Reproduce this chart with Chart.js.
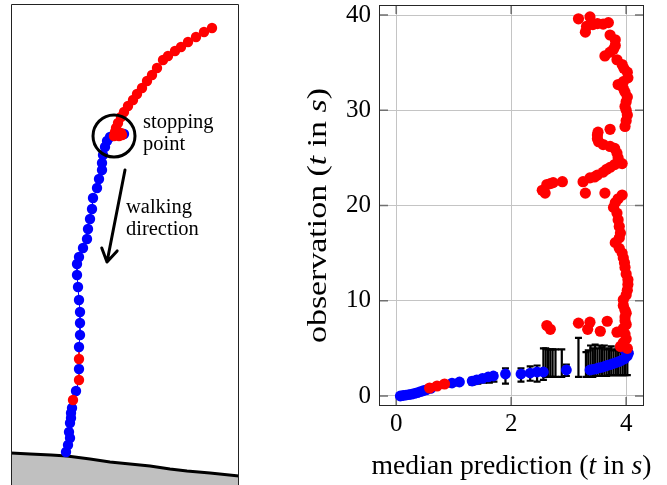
<!DOCTYPE html>
<html>
<head>
<meta charset="utf-8">
<script src="https://cdn.jsdelivr.net/npm/chart.js@4.4.1/dist/chart.umd.min.js"></script>
<style>
  html, body { margin: 0; padding: 0; background: #fff; }
  body { width: 667px; height: 485px; position: relative; overflow: hidden; }
  #scene { position: absolute; left: 11px; top: 4px; }
  #scatter { position: absolute; left: 300px; top: 0; }
</style>
</head>
<body>
<canvas id="scene" width="228" height="481"></canvas>
<canvas id="scatter" width="367" height="485"></canvas>
<script>
// ---------- left: trajectory sketch (scene units, y up) ----------
const trackX = [201, 193, 185, 177, 170, 164, 157, 152, 146, 141, 136, 131, 126, 122, 117, 113, 110, 107,
  105, 104, 107, 110, 103, 108, 111, 113, 99, 96, 94, 92, 91, 91, 88, 86, 82, 81, 79, 77, 76, 72, 68, 66, 66,
  67, 68, 69, 69, 69, 68, 68, 68, 68, 65, 62, 61, 60, 60, 59, 58, 59, 57, 55];
const trackY = [457, 453, 448, 443, 438, 434, 429, 425, 417, 410, 404, 397, 391, 385, 379, 373, 368, 362,
  357, 353, 351, 352, 349, 349, 350, 351, 348, 344, 338, 330, 322, 315, 306, 297, 287, 276, 266, 256, 246, 237,
  228, 221, 210, 198, 185, 173, 162, 150, 138, 126, 116, 105, 94, 85, 77, 72, 67, 62, 53, 47, 40, 33];
// s = stopped (red), w = walking (blue)
const trackState = ['s', 's', 's', 's', 's', 's', 's', 's', 's', 's', 's', 's', 's', 's', 's', 's', 's', 's',
  's', 's', 's', 's', 's', 's', 's', 'w', 'w', 'w', 'w', 'w', 'w', 'w', 'w', 'w', 'w', 'w', 'w', 'w', 'w', 'w',
  'w', 'w', 'w', 'w', 'w', 'w', 'w', 'w', 'w', 's', 'w', 's', 'w', 's', 'w', 'w', 'w', 'w', 'w', 'w', 'w', 'w'];

const groundX = [0, 19, 40, 56, 79, 99, 119, 139, 159, 176, 199, 228];
const groundY = [32, 31, 30, 29, 26, 23, 21, 19, 16, 14, 12, 9];

const stopMark = [103, 349];
const stopLabel = ['stopping', 'point'];
const stopLabelAt = [132, 357];
const walkLabel = ['walking', 'direction'];
const walkLabelAt = [115, 272];
const arrowFrom = [114, 315];
const arrowTo = [96, 223];

// ---------- right: median prediction vs observation ----------
const xTicks = [0, 2, 4];
const yTicks = [0, 10, 20, 30, 40];
// axis titles as [text, italic] runs
const xTitleRuns = [['median prediction (', false], ['t', true], [' in ', false], ['s', true], [')', false]];
const yTitleRuns = [['observation (', false], ['t', true], [' in ', false], ['s', true], [')', false]];

const redX = [0.58, 0.71, 0.84,
  2.62, 2.68, 3.17, 3.37, 3.33, 3.55, 3.67, 3.84, 3.95,
  3.9, 3.95, 4.0, 4.02, 3.98, 4.0, 3.98, 3.98, 4.0, 3.98, 3.95, 3.95, 4.0, 4.02, 4.03, 4.03, 4.0, 3.98, 3.97,
  3.95, 3.93, 3.88, 3.81, 3.88, 3.9, 3.88, 3.86, 3.84, 3.78, 3.81, 3.86, 3.93,
  3.29, 3.63,
  2.54, 2.59, 2.62, 2.68, 2.73, 2.89,
  3.25, 3.37, 3.45, 3.5, 3.6, 3.66, 3.72, 3.8, 3.88, 3.93, 3.86, 3.84, 3.8, 3.72, 3.6, 3.52, 3.5, 3.5, 3.51, 3.72,
  3.98, 4.0, 4.02, 4.0, 3.98, 4.0, 4.02, 3.98, 3.95, 3.86, 3.95, 4.03, 4.02, 3.96, 3.93, 3.84, 3.63, 3.72, 3.78,
  3.81, 3.81, 3.72, 3.69, 3.6, 3.5, 3.42, 3.31, 3.29, 3.17, 3.37];
const redY = [0.84, 1.05, 1.26,
  7.4, 7.0, 7.65, 7.75, 7.0, 6.8, 7.85, 6.7, 7.1,
  5.2, 5.6, 6.0, 5.0, 6.5, 7.5, 7.9, 8.3, 8.7, 9.0, 9.5, 10.1, 10.6, 11.1, 11.7, 12.2, 12.8, 13.5, 14.0,
  14.5, 15.0, 15.5, 16.1, 16.6, 17.1, 17.8, 18.5, 19.2, 19.8, 20.3, 20.7, 21.1,
  21.3, 21.3,
  21.6, 21.3, 22.2, 22.3, 22.4, 22.5,
  22.5, 22.9, 23.0, 23.2, 23.5, 23.8, 24.0, 24.3, 24.5, 24.4, 25.0, 25.5, 26.0, 26.2, 26.4, 26.7, 27.0, 27.4, 27.7, 28.0,
  28.3, 28.9, 29.5, 30.0, 30.4, 30.9, 31.4, 31.9, 32.3, 32.7, 33.0, 33.4, 34.0, 34.4, 34.8, 35.3, 35.7, 36.1, 36.4,
  36.8, 37.4, 37.9, 39.2, 39.05, 39.1, 39.0, 38.8, 38.2, 39.6, 39.8];

const blueX = [0.07, 0.12, 0.17, 0.22, 0.27, 0.32, 0.37, 0.42, 0.47, 0.52, 0.6, 0.97, 1.1, 1.32, 1.4, 1.5, 1.6,
  1.69, 1.9, 2.17, 2.33, 2.45, 2.56, 2.96,
  3.37, 3.42, 3.47, 3.52, 3.57, 3.62, 3.67, 3.72, 3.77, 3.82, 3.87, 3.92, 3.97, 4.02, 4.04, 3.98];
const blueY = [0.0, 0.05, 0.1, 0.15, 0.2, 0.27, 0.35, 0.45, 0.55, 0.65, 0.8, 1.36, 1.47, 1.57, 1.7, 1.85, 2.0,
  2.1, 2.31, 2.31, 2.41, 2.52, 2.52, 2.73,
  2.73, 2.8, 2.85, 2.95, 3.0, 3.1, 3.2, 3.3, 3.4, 3.5, 3.6, 3.75, 3.9, 4.2, 4.5, 4.8];

const errX = [0.75, 0.88, 1.0, 1.1, 1.32, 1.42, 1.52, 1.62, 1.7, 1.9, 2.17, 2.33, 2.45, 2.56, 2.6, 2.64, 2.68,
  2.72, 2.77, 2.88, 2.96, 3.17, 3.3, 3.34, 3.38, 3.42, 3.46, 3.5, 3.54, 3.58, 3.62, 3.66, 3.7, 3.74, 3.78, 3.82,
  3.86, 3.9, 3.94, 3.98, 4.02];
const errLo = [0.9, 1.0, 1.1, 1.2, 1.2, 1.3, 1.4, 1.4, 1.5, 1.3, 1.5, 1.6, 1.5, 1.7, 2.0, 2.0, 2.0,
  2.0, 2.0, 2.0, 2.1, 2.0, 2.0, 2.0, 2.0, 2.0, 2.1, 2.1, 2.1, 2.1, 2.1, 2.1, 2.2, 2.2, 2.2, 2.2,
  2.2, 2.2, 2.2, 2.2, 2.2];
const errHi = [1.3, 1.4, 1.5, 1.6, 1.9, 2.0, 2.1, 2.3, 2.4, 2.9, 2.9, 3.1, 3.2, 5.0, 5.0, 4.9, 4.9,
  4.9, 4.9, 4.9, 3.3, 6.1, 4.6, 4.8, 5.3, 5.0, 5.4, 5.0, 5.3, 5.1, 5.3, 4.9, 5.0, 5.2, 4.8, 4.9,
  5.0, 4.8, 4.6, 4.5, 4.3];

const $ = (id) => document.getElementById(id);
const RED = '#ff0000';
const BLUE = '#0000ff';
const SERIF = '"Liberation Serif", "DejaVu Serif", serif';
const pts = (xs, ys) => xs.map((x, i) => ({ x, y: ys[i] }));

// ---------- left chart ----------
const track = pts(trackX, trackY);
const sceneDecor = {
  id: 'sceneDecor',
  afterDatasetsDraw(chart) {
    const { ctx, chartArea: a, scales: { x, y } } = chart;
    const P = (p) => [x.getPixelForValue(p[0]), y.getPixelForValue(p[1])];
    ctx.save();
    // frame (left, top, right)
    ctx.strokeStyle = '#222';
    ctx.lineWidth = 1;
    ctx.beginPath();
    ctx.moveTo(a.left + 0.5, a.bottom);
    ctx.lineTo(a.left + 0.5, a.top + 0.5);
    ctx.lineTo(a.right - 0.5, a.top + 0.5);
    ctx.lineTo(a.right - 0.5, a.bottom);
    ctx.stroke();
    // stopping point circle
    ctx.strokeStyle = '#000';
    ctx.lineWidth = 3;
    const [cx, cy] = P(stopMark);
    ctx.beginPath();
    ctx.arc(cx, cy, 21, 0, Math.PI * 2);
    ctx.stroke();
    // walking arrow
    const [x0, y0] = P(arrowFrom);
    const [x1, y1] = P(arrowTo);
    const ang = Math.atan2(y1 - y0, x1 - x0);
    ctx.lineWidth = 3;
    ctx.lineCap = 'round';
    ctx.lineJoin = 'round';
    ctx.beginPath();
    ctx.moveTo(x0, y0);
    ctx.lineTo(x1, y1);
    ctx.moveTo(x1 - 15 * Math.cos(ang - 0.55), y1 - 15 * Math.sin(ang - 0.55));
    ctx.lineTo(x1, y1);
    ctx.lineTo(x1 - 15 * Math.cos(ang + 0.55), y1 - 15 * Math.sin(ang + 0.55));
    ctx.stroke();
    // labels
    ctx.fillStyle = '#000';
    ctx.font = '20.5px ' + SERIF;
    ctx.textBaseline = 'alphabetic';
    ctx.textAlign = 'left';
    [[stopLabel, stopLabelAt], [walkLabel, walkLabelAt]].forEach(([lines, at]) => {
      const [tx, ty] = P(at);
      lines.forEach((t, i) => ctx.fillText(t, tx, ty + i * 22));
    });
    ctx.restore();
  },
};

new Chart($('scene'), {
  type: 'scatter',
  data: {
    datasets: [
      {
        data: track.filter((p, i) => trackState[i] === 's'),
        backgroundColor: RED, borderWidth: 0, pointRadius: 5.2, order: 0,
      },
      {
        data: track.filter((p, i) => trackState[i] === 'w'),
        backgroundColor: BLUE, borderWidth: 0, pointRadius: 5.2, order: 1,
      },
      {
        data: track, showLine: true, pointRadius: 0, borderWidth: 1, order: 2,
        segment: { borderColor: (c) => (trackState[c.p1DataIndex] === 's' ? RED : BLUE) },
      },
      {
        data: pts(groundX, groundY), showLine: true, pointRadius: 0, order: 3,
        borderColor: '#000', borderWidth: 3, fill: 'start', backgroundColor: '#c0c0c0',
      },
    ],
  },
  options: {
    responsive: false,
    animation: false,
    layout: { padding: 0, autoPadding: false },
    plugins: { legend: { display: false }, tooltip: { enabled: false } },
    scales: {
      x: { type: 'linear', display: false, min: 0, max: 228 },
      y: { type: 'linear', display: false, min: 0, max: 481 },
    },
  },
  plugins: [sceneDecor],
});

// ---------- right chart ----------
const errorBars = {
  id: 'errorBars',
  beforeDatasetsDraw(chart) {
    const { ctx, scales: { x, y } } = chart;
    ctx.save();
    ctx.strokeStyle = '#000';
    ctx.lineWidth = 2.2;
    errX.forEach((v, i) => {
      const px = x.getPixelForValue(v);
      const lo = y.getPixelForValue(errLo[i]);
      const hi = y.getPixelForValue(errHi[i]);
      ctx.beginPath();
      ctx.moveTo(px, lo); ctx.lineTo(px, hi);
      ctx.moveTo(px - 3.5, lo); ctx.lineTo(px + 3.5, lo);
      ctx.moveTo(px - 3.5, hi); ctx.lineTo(px + 3.5, hi);
      ctx.stroke();
    });
    ctx.restore();
  },
};

const frame = {
  id: 'frame',
  beforeDatasetsDraw(chart) {
    const { ctx, chartArea: a, scales: { x, y } } = chart;
    ctx.save();
    ctx.strokeStyle = '#707070';
    ctx.lineWidth = 1.6;
    ctx.beginPath();
    x.ticks.forEach((t) => {
      const px = x.getPixelForValue(t.value);
      ctx.moveTo(px, a.bottom); ctx.lineTo(px, a.bottom - 9);
      ctx.moveTo(px, a.top); ctx.lineTo(px, a.top + 9);
    });
    y.ticks.forEach((t) => {
      const py = y.getPixelForValue(t.value);
      ctx.moveTo(a.left, py); ctx.lineTo(a.left + 9, py);
      ctx.moveTo(a.right, py); ctx.lineTo(a.right - 9, py);
    });
    ctx.stroke();
    ctx.restore();
  },
  afterDatasetsDraw(chart) {
    const { ctx, chartArea: a } = chart;
    ctx.save();
    ctx.strokeStyle = '#262626';
    ctx.lineWidth = 1;
    ctx.strokeRect(a.left + 0.5, a.top + 0.5, a.right - a.left - 1, a.bottom - a.top - 1);
    ctx.restore();
  },
};

// axis titles with italic t and s; the serif is stretched a little along the
// text to get the wider look of the original typeface
const fontFor = (size, it) => `${it ? 'italic ' : ''}${size}px ${SERIF}`;
function runsWidth(ctx, runs, size) {
  return runs.reduce((w, [t, it]) => { ctx.font = fontFor(size, it); return w + ctx.measureText(t).width; }, 0);
}
function drawRuns(ctx, runs, size, width) {
  const w = runsWidth(ctx, runs, size);
  ctx.scale(width / w, 1);
  let cur = -w / 2;
  runs.forEach(([t, it]) => {
    ctx.font = fontFor(size, it);
    ctx.fillText(t, cur, 0);
    cur += ctx.measureText(t).width;
  });
}
const axisTitles = {
  id: 'axisTitles',
  afterDraw(chart) {
    const { ctx, chartArea: a } = chart;
    const size = 27.5;
    ctx.save();
    ctx.fillStyle = '#000';
    ctx.textAlign = 'left';
    ctx.textBaseline = 'alphabetic';
    ctx.translate((a.left + a.right) / 2, chart.height - 11);
    drawRuns(ctx, xTitleRuns, size, 280);
    ctx.restore();
    ctx.save();
    ctx.fillStyle = '#000';
    ctx.textAlign = 'left';
    ctx.textBaseline = 'alphabetic';
    ctx.translate(26, (a.top + a.bottom) / 2 + 10);
    ctx.rotate(-Math.PI / 2);
    drawRuns(ctx, yTitleRuns, size, 255);
    ctx.restore();
  },
};

const tickFont = { family: SERIF, size: 25 };
const gridStyle = { color: '#c4c4c4', lineWidth: 1, drawTicks: false };

new Chart($('scatter'), {
  type: 'scatter',
  data: {
    datasets: [
      { label: 'stopped', data: pts(redX, redY), backgroundColor: RED, borderWidth: 0, pointRadius: 5.6, order: 0 },
      { label: 'walking', data: pts(blueX, blueY), backgroundColor: BLUE, borderWidth: 0, pointRadius: 5.4, order: 1 },
    ],
  },
  options: {
    responsive: false,
    animation: false,
    layout: { padding: { top: 5, right: 23, left: 0, bottom: 0 }, autoPadding: false },
    plugins: { legend: { display: false }, tooltip: { enabled: false } },
    scales: {
      x: {
        type: 'linear', min: -0.3, max: 4.31,
        afterBuildTicks: (s) => { s.ticks = xTicks.map((value) => ({ value })); },
        afterFit: (s) => { s.height = 79; s.paddingLeft = 0; s.paddingRight = 0; },
        grid: gridStyle,
        border: { display: false },
        ticks: { font: tickFont, color: '#000', padding: 3, maxRotation: 0 },
      },
      y: {
        type: 'linear', min: -1.05, max: 41.05,
        afterBuildTicks: (s) => { s.ticks = yTicks.map((value) => ({ value })); },
        afterFit: (s) => { s.width = 79; s.paddingTop = 0; s.paddingBottom = 0; },
        grid: gridStyle,
        border: { display: false },
        ticks: { font: tickFont, color: '#000', padding: 8 },
      },
    },
  },
  plugins: [errorBars, frame, axisTitles],
});
</script>
</body>
</html>
